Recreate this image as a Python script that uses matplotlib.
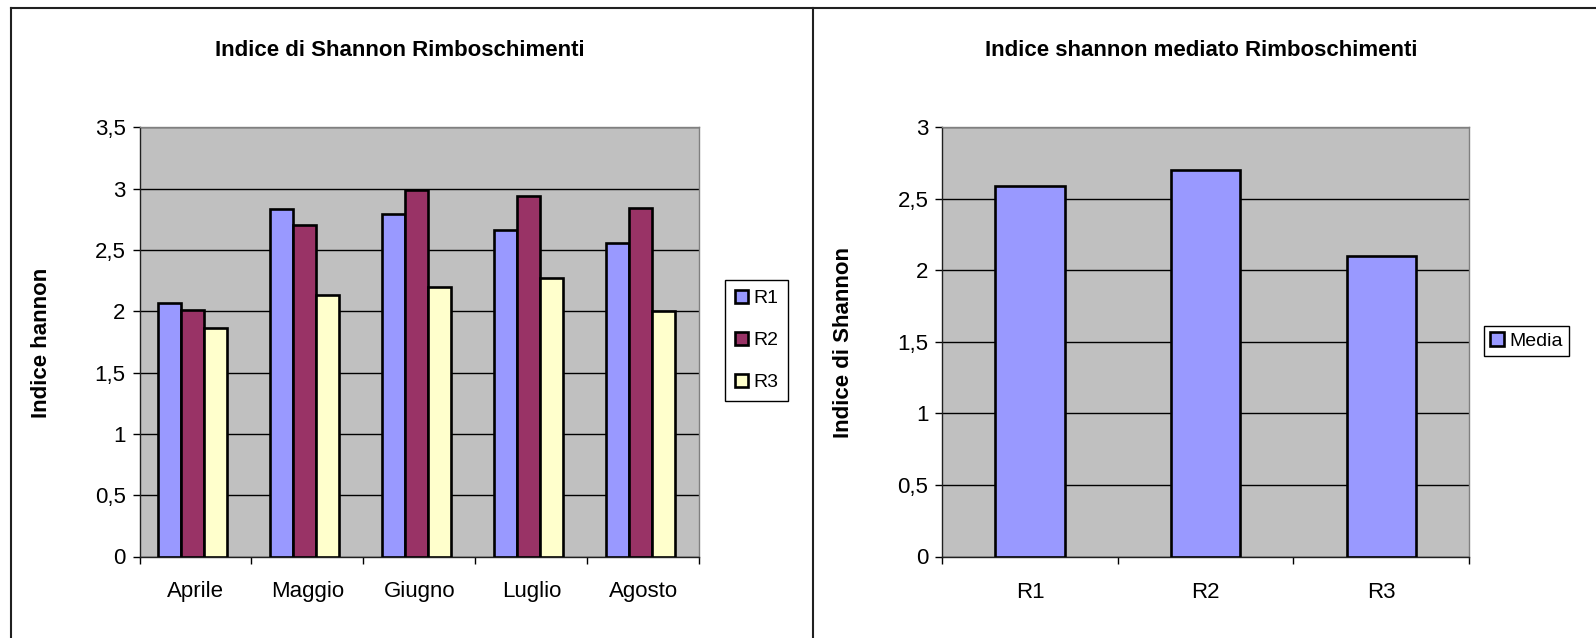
import matplotlib
matplotlib.use("Agg")
import numpy as np
import matplotlib.pyplot as plt
from matplotlib.lines import Line2D
from matplotlib.ticker import FuncFormatter, FixedLocator

plt.rcParams['font.family'] = ['Liberation Sans', 'DejaVu Sans']

# data
mesi = ['Aprile', 'Maggio', 'Giugno', 'Luglio', 'Agosto']
r1 = [2.07, 2.83, 2.79, 2.66, 2.56]
r2 = [2.01, 2.70, 2.99, 2.94, 2.84]
r3 = [1.86, 2.13, 2.20, 2.27, 2.00]
serie = ['R1', 'R2', 'R3']
colori = ['#9999FF', '#993366', '#FFFFCC']

siti = ['R1', 'R2', 'R3']
media = [2.59, 2.70, 2.10]

W, H = 1596, 638
fig = plt.figure(figsize=(W / 100, H / 100), dpi=100)
FS = 16

def fx(px):
    return px / W

def fy(py):
    return 1 - py / H

def virgola(v, pos):
    if abs(v - round(v)) < 1e-9:
        return '%d' % round(v)
    return ('%g' % v).replace('.', ',')

def stile(ax, n, ymax, step):
    ax.set_facecolor('#C0C0C0')
    ax.set_xlim(-0.5, n - 0.5)
    ax.set_ylim(0, ymax)
    ax.set_yticks(np.arange(0, ymax + 0.001, step))
    ax.yaxis.set_major_formatter(FuncFormatter(virgola))
    ax.yaxis.grid(True, color='black', linewidth=1)
    ax.set_axisbelow(True)
    ax.set_xticks(range(n))
    ax.xaxis.set_minor_locator(FixedLocator(np.arange(-0.5, n, 1.0)))
    ax.tick_params(axis='x', which='major', length=0, pad=18, labelsize=FS)
    ax.tick_params(axis='x', which='minor', length=5, width=1, direction='out')
    ax.tick_params(axis='y', length=5, width=1, pad=5, labelsize=FS)
    for s in ['top', 'right']:
        ax.spines[s].set_color('#808080')
        ax.spines[s].set_linewidth(1)
    for s in ['left', 'bottom']:
        ax.spines[s].set_color('#202020')
        ax.spines[s].set_linewidth(1)

# grafico di sinistra
ax1 = fig.add_axes([fx(139.5), fy(556.5), fx(699.3 - 139.5), (556.5 - 127.3) / H])
x = np.arange(len(mesi))
bw = 0.207
handles = []
for i, vals in enumerate([r1, r2, r3]):
    b = ax1.bar(x + (i - 1) * bw - 0.025, vals, bw, color=colori[i],
                edgecolor='black', linewidth=1.9, label=serie[i], zorder=3)
    handles.append(b)
stile(ax1, len(mesi), 3.5, 0.5)
ax1.set_xticklabels(mesi)

leg1 = fig.legend(handles=handles, labels=serie, loc='upper left',
                  bbox_to_anchor=(fx(725), fy(280)), borderaxespad=0,
                  fancybox=False, edgecolor='black', framealpha=1,
                  fontsize=14, handlelength=0.7, handleheight=0.7,
                  handletextpad=0.25, labelspacing=1.25, borderpad=0.5)
leg1.get_frame().set_linewidth(1)

# grafico di destra
ax2 = fig.add_axes([fx(942.3), fy(556.5), fx(1469 - 942.3), (556.5 - 127.3) / H])
b2 = ax2.bar(range(len(siti)), media, 0.395, color='#9999FF',
             edgecolor='black', linewidth=1.9, label='Media', zorder=3)
stile(ax2, len(siti), 3, 0.5)
ax2.set_xticklabels(siti)

leg2 = fig.legend(handles=[b2], labels=['Media'], loc='upper left',
                  bbox_to_anchor=(fx(1484), fy(326)), borderaxespad=0,
                  fancybox=False, edgecolor='black', framealpha=1,
                  fontsize=14, handlelength=0.7, handleheight=0.7,
                  handletextpad=0.25, borderpad=0.33)
leg2.get_frame().set_linewidth(1)

# titoli ed etichette
fig.text(fx(400), fy(51), 'Indice di Shannon Rimboschimenti', ha='center',
         va='center', fontsize=FS, fontweight='bold')
fig.text(fx(1201), fy(51), 'Indice shannon mediato Rimboschimenti', ha='center',
         va='center', fontsize=FS, fontweight='bold')
fig.text(fx(42), fy(343), 'Indice hannon', rotation=90, ha='center',
         va='center', fontsize=FS, fontweight='bold')
fig.text(fx(843), fy(342), 'Indice di Shannon', rotation=90, ha='center',
         va='center', fontsize=FS, fontweight='bold')

# bordi dei due riquadri
fig.add_artist(Line2D([fx(10.5), 1], [fy(7.5), fy(7.5)], color='#202020', linewidth=1.5))
fig.add_artist(Line2D([fx(10.5), fx(10.5)], [fy(7.5), 0], color='#202020', linewidth=1.5))
fig.add_artist(Line2D([fx(813), fx(813)], [fy(7.5), 0], color='#202020', linewidth=1.5))

fig.savefig('out.png', dpi=100)
